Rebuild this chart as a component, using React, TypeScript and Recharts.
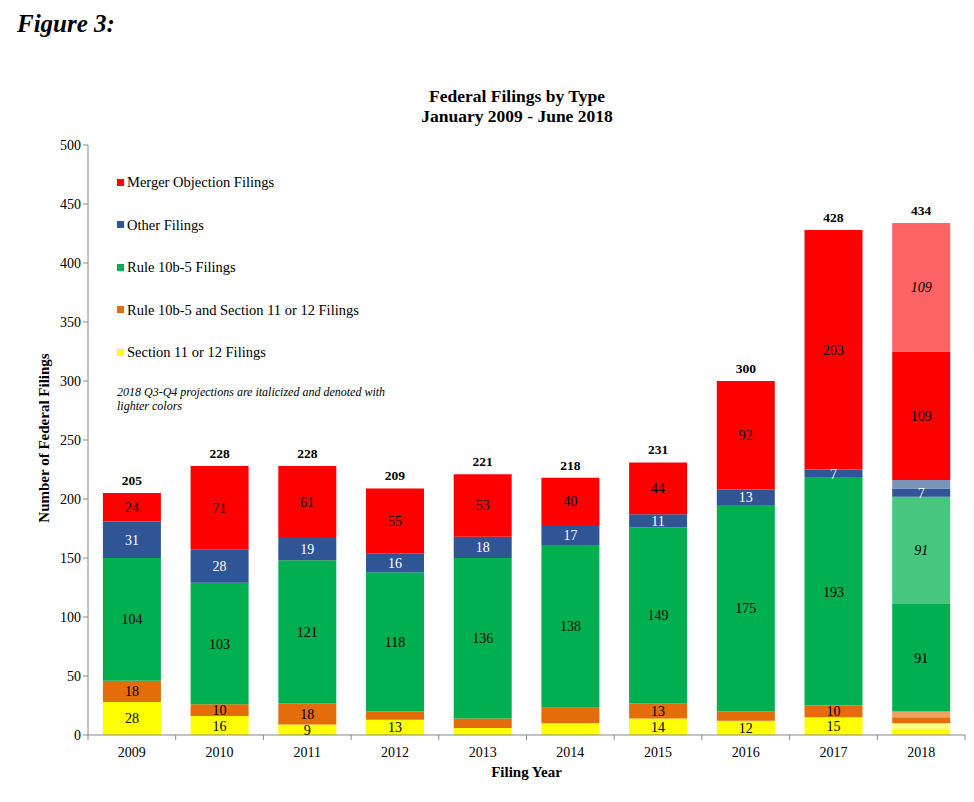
import {
  ComposedChart,
  Bar,
  Line,
  XAxis,
  YAxis,
  LabelList,
} from 'recharts';

const years = ['2009', '2010', '2011', '2012', '2013', '2014', '2015', '2016', '2017', '2018'];

// Jan-Jun actuals (2018 = first half only)
const section11 = [28, 16, 9, 13, 6, 10, 14, 12, 15, 5];
const rule10b5AndSection11 = [18, 10, 18, 7, 8, 13, 13, 8, 10, 5];
const rule10b5 = [104, 103, 121, 118, 136, 138, 149, 175, 193, 91];
const otherFilings = [31, 28, 19, 16, 18, 17, 11, 13, 7, 7];
const mergerObjection = [24, 71, 61, 55, 53, 40, 44, 92, 203, 109];

// 2018 Q3-Q4 projections
const section11Proj = [0, 0, 0, 0, 0, 0, 0, 0, 0, 5];
const rule10b5AndSection11Proj = [0, 0, 0, 0, 0, 0, 0, 0, 0, 5];
const rule10b5Proj = [0, 0, 0, 0, 0, 0, 0, 0, 0, 91];
const otherFilingsProj = [0, 0, 0, 0, 0, 0, 0, 0, 0, 7];
const mergerObjectionProj = [0, 0, 0, 0, 0, 0, 0, 0, 0, 109];

const totals = [205, 228, 228, 209, 221, 218, 231, 300, 428, 434];
const yTicks = [0, 50, 100, 150, 200, 250, 300, 350, 400, 450, 500];

// labels that the original leaves off (index into years)
const hiddenSection11 = [4, 5, 9];
const hiddenCombo = [3, 4, 5, 7, 9];

const data = years.map((year, i) => ({
  year,
  sec11: section11[i],
  combo: rule10b5AndSection11[i],
  r10b5: rule10b5[i],
  r10b5P: rule10b5Proj[i],
  other: otherFilings[i],
  otherP: otherFilingsProj[i],
  merger: mergerObjection[i],
  mergerP: mergerObjectionProj[i],
  sec11P: section11Proj[i],
  comboP: rule10b5AndSection11Proj[i],
  total: totals[i],
}));

const serif = '"Liberation Serif", "Times New Roman", serif';

const legendItems = [
  { name: 'Merger Objection Filings', color: '#FF0000' },
  { name: 'Other Filings', color: '#2F5597' },
  { name: 'Rule 10b-5 Filings', color: '#00B050' },
  { name: 'Rule 10b-5 and Section 11 or 12 Filings', color: '#E46C0A' },
  { name: 'Section 11 or 12 Filings', color: '#FFFF00' },
];

const makeLabel = (hidden: number[], color: string, italic = false) => (props: any) => {
  const { x, y, width, height, value, index } = props;
  if (!value || hidden.includes(index)) return null;
  return (
    <text
      x={x + width / 2}
      y={y + height / 2}
      dy={5}
      textAnchor="middle"
      fill={color}
      fontFamily={serif}
      fontSize={14}
      fontStyle={italic ? 'italic' : 'normal'}
    >
      {value}
    </text>
  );
};

const XTick = (props: any) => {
  const { x, y, payload } = props;
  const half = 877 / 10 / 2;
  return (
    <g>
      <line x1={x - half} x2={x - half} y1={y - 8} y2={y - 3} stroke="#888" />
      {payload.index === years.length - 1 && (
        <line x1={x + half} x2={x + half} y1={y - 8} y2={y - 3} stroke="#888" />
      )}
      <text x={x} y={y + 14} textAnchor="middle" fontFamily={serif} fontSize={14} fill="#000">
        {payload.value}
      </text>
    </g>
  );
};

export default function App() {
  return (
    <div style={{ position: 'absolute', left: 0, top: 0, width: 974, height: 802, background: '#fff' }}>
      <div
        style={{
          position: 'absolute',
          left: 17,
          top: 10,
          fontFamily: serif,
          fontWeight: 'bold',
          fontStyle: 'italic',
          fontSize: 25,
        }}
      >
        Figure 3:
      </div>
      <div
        style={{
          position: 'absolute',
          left: 0,
          top: 86,
          width: 1034,
          textAlign: 'center',
          fontFamily: serif,
          fontWeight: 'bold',
          fontSize: 17.5,
          lineHeight: '20px',
        }}
      >
        Federal Filings by Type
        <br />
        January 2009 - June 2018
      </div>
      <div style={{ position: 'absolute', left: 117, top: 172, fontFamily: serif, fontSize: 14.5 }}>
        {legendItems.map((item, i) => (
          <div
            key={item.name}
            style={{ position: 'absolute', top: i * 42.5, whiteSpace: 'nowrap', display: 'flex', alignItems: 'center', lineHeight: '20px' }}
          >
            <span style={{ width: 7, height: 7, background: item.color, display: 'inline-block', marginRight: 3 }} />
            {item.name}
          </div>
        ))}
        <div style={{ position: 'absolute', top: 213, width: 282, fontStyle: 'italic', fontSize: 12, lineHeight: '14px' }}>
          2018 Q3-Q4 projections are italicized and denoted with lighter colors
        </div>
      </div>
      <ComposedChart
        width={974}
        height={802}
        data={data}
        margin={{ top: 145, right: 9, left: 48, bottom: 37 }}
        barCategoryGap="17%"
        style={{ position: 'absolute', left: 0, top: 0 }}
      >
        <XAxis
          dataKey="year"
          stroke="#888"
          tickLine={false}
          tick={<XTick />}
          height={30}
          label={{ value: 'Filing Year', position: 'insideBottom', offset: -12, fontFamily: serif, fontWeight: 'bold', fontSize: 15, fill: '#000' }}
        />
        <YAxis
          domain={[0, 500]}
          ticks={yTicks}
          stroke="#888"
          width={40}
          tickSize={5}
          tick={{ fontFamily: serif, fontSize: 14, fill: '#000' }}
          label={{
            value: 'Number of Federal Filings',
            angle: -90,
            position: 'insideLeft',
            offset: -4,
            dy: -2,
            style: { textAnchor: 'middle', fontFamily: serif, fontWeight: 'bold', fontSize: 15, fill: '#000' },
          }}
          interval={0}
        />
        <Bar dataKey="sec11" stackId="a" fill="#FFFF00" isAnimationActive={false}>
          <LabelList dataKey="sec11" content={makeLabel(hiddenSection11, '#000')} />
        </Bar>
        <Bar dataKey="sec11P" stackId="a" fill="#FFFF80" isAnimationActive={false} />
        <Bar dataKey="combo" stackId="a" fill="#E46C0A" isAnimationActive={false}>
          <LabelList dataKey="combo" content={makeLabel(hiddenCombo, '#000')} />
        </Bar>
        <Bar dataKey="comboP" stackId="a" fill="#F0A060" isAnimationActive={false} />
        <Bar dataKey="r10b5" stackId="a" fill="#00B050" isAnimationActive={false}>
          <LabelList dataKey="r10b5" content={makeLabel([], '#000')} />
        </Bar>
        <Bar dataKey="r10b5P" stackId="a" fill="#48C680" isAnimationActive={false}>
          <LabelList dataKey="r10b5P" content={makeLabel([], '#000', true)} />
        </Bar>
        <Bar dataKey="other" stackId="a" fill="#2F5597" isAnimationActive={false}>
          <LabelList dataKey="other" content={makeLabel([], '#fff')} />
        </Bar>
        <Bar dataKey="otherP" stackId="a" fill="#7A93B8" isAnimationActive={false} />
        <Bar dataKey="merger" stackId="a" fill="#FF0000" isAnimationActive={false}>
          <LabelList dataKey="merger" content={makeLabel([], '#000')} />
        </Bar>
        <Bar dataKey="mergerP" stackId="a" fill="#FF6464" isAnimationActive={false}>
          <LabelList dataKey="mergerP" content={makeLabel([], '#000', true)} />
        </Bar>
        <Line
          dataKey="total"
          stroke="none"
          dot={false}
          activeDot={false}
          isAnimationActive={false}
        >
          <LabelList
            dataKey="total"
            position="top"
            offset={8}
            style={{ fontFamily: serif, fontWeight: 'bold', fontSize: 13.5, fill: '#000' }}
          />
        </Line>
      </ComposedChart>
    </div>
  );
}
